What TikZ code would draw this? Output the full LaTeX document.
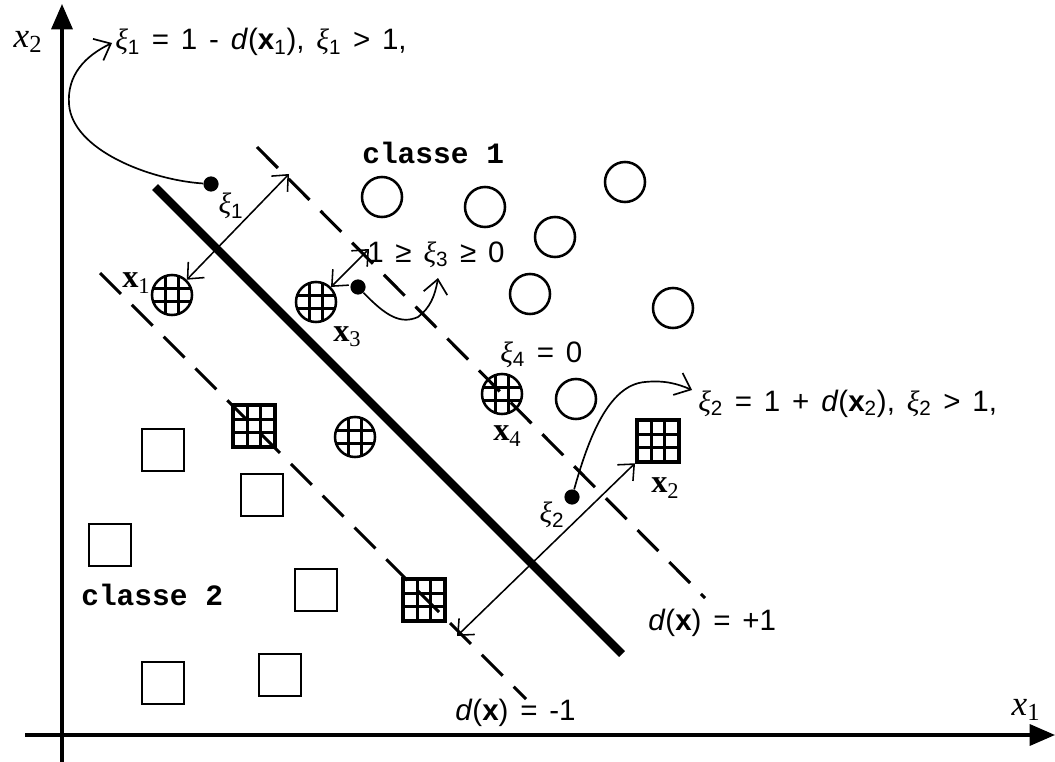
\documentclass[tikz,border=0pt]{standalone}
\usepackage{fontspec}
\setmainfont{Liberation Sans}
\newfontfamily\serif{Liberation Serif}
\newfontfamily\mono{Liberation Mono}
\usetikzlibrary{arrows.meta}
\newcommand\myxi{{\serif\itshape ξ}}
\newcommand\gap{\hspace{0.4em}}
\newcommand\ptname[1]{\textbf{x}\raisebox{-0.35ex}{\fontsize{16}{16}\selectfont #1}}
\tikzset{
  opencirc/.style={circle,draw,line width=1.8pt,minimum size=1cm,inner sep=0pt},
  opensq/.style={rectangle,draw,line width=2pt,minimum size=1.05cm,inner sep=0pt},
  gridlines/.style={path picture={
      \foreach \d in {-0.17,0.17}{
        \draw[line width=2pt] ([xshift=\d cm]path picture bounding box.north) -- ([xshift=\d cm]path picture bounding box.south);
        \draw[line width=2pt] ([yshift=\d cm]path picture bounding box.west) -- ([yshift=\d cm]path picture bounding box.east);}}},
  hatchcirc/.style={opencirc,gridlines},
  hatchsq/.style={opensq,line width=2.8pt,gridlines},
  dotnode/.style={circle,fill,minimum size=0.38cm,inner sep=0pt},
  dbl/.style={line width=1.1pt,{Straight Barb[length=9pt,width=16pt]}-{Straight Barb[length=9pt,width=16pt]}},
  curvearrow/.style={line width=1.2pt,-{Straight Barb[length=10pt,width=17pt]}},
  axis/.style={line width=2.2pt,-{Triangle[length=18pt,width=15pt]}},
  margin/.style={line width=2.2pt,dash pattern=on 21pt off 11pt},
  boundary/.style={line width=6pt},
  lab/.style={inner sep=0pt,font=\fontsize{21}{23}\selectfont},
  monolab/.style={inner sep=0pt,font=\mono\bfseries\fontsize{21}{23}\selectfont},
  ptlab/.style={inner sep=0pt,font=\serif\fontsize{23}{25}\selectfont},
  axlab/.style={inner sep=0pt,font=\serif\itshape\fontsize{25}{27}\selectfont},
}
\begin{document}
\begin{tikzpicture}[x=0.025cm,y=-0.025cm]
\useasboundingbox (0,0) rectangle (1055,762);
% axes
\coordinate (yb) at (62,762);
\coordinate (yt) at (62,4);
\coordinate (xl) at (25,735);
\coordinate (xr) at (1055,735);
\draw[axis] (yb) -- (yt);
\draw[axis] (xl) -- (xr);
\node[axlab] (ax2) at (28,42) {x\textsubscript{\upshape 2}};
\node[axlab] (ax1) at (1026,710) {x\textsubscript{\upshape 1}};
% lines
\coordinate (b1) at (155,187);
\coordinate (b2) at (622,654);
\coordinate (u1) at (257,147);
\coordinate (u2) at (705,598);
\coordinate (l1) at (100,273);
\coordinate (l2) at (526,699);
\draw[boundary] (b1) -- (b2);
\draw[margin] (u1) -- (u2);
\draw[margin] (l1) -- (l2);
% class 1 open circles
\node[opencirc] (c1) at (382,197) {};
\node[opencirc] (c2) at (485,207) {};
\node[opencirc] (c3) at (625,182) {};
\node[opencirc] (c4) at (555,237) {};
\node[opencirc] (c5) at (530,294) {};
\node[opencirc] (c6) at (673,308) {};
\node[opencirc] (c7) at (576,399) {};
% class 1 hatched circles
\node[hatchcirc] (x1) at (172,295) {};
\node[hatchcirc] (x3) at (316,302) {};
\node[hatchcirc] (x4) at (502,394) {};
\node[hatchcirc] (h5) at (355,437) {};
% class 2 open squares
\node[opensq] (s1) at (163,450) {};
\node[opensq] (s2) at (262,495) {};
\node[opensq] (s3) at (110,545) {};
\node[opensq] (s4) at (316,590) {};
\node[opensq] (s5) at (163,683) {};
\node[opensq] (s6) at (280,675) {};
% class 2 hatched squares
\node[hatchsq] (q1) at (254,426) {};
\node[hatchsq] (q2) at (424,600) {};
\node[hatchsq] (x2) at (658,441) {};
% labels of points
\node[ptlab] (lx1) at (136,283) {\ptname{1}};
\node[ptlab] (lx3) at (347,337) {\ptname{3}};
\node[ptlab] (lx4) at (507,436) {\ptname{4}};
\node[ptlab] (lx2) at (665,488) {\ptname{2}};
\node[monolab,anchor=base west] (cl1) at (362,163) {classe 1};
\node[monolab,anchor=base west] (cl2) at (81,605) {classe 2};
% slack dots
\node[dotnode] (d1) at (211,184) {};
\node[dotnode] (d3) at (358,287) {};
\node[dotnode] (d2) at (572,497) {};
\node[lab] (lxi1) at (231,206) {\myxi\textsubscript{1}};
\node[lab] (lxi2) at (552,515) {\myxi\textsubscript{2}};
% double arrows
\coordinate (m1) at (289,174);
\coordinate (m3) at (369,249);
\coordinate (m2) at (457,636);
\draw[dbl] (x1) -- (m1);
\draw[dbl] (x3) -- (m3);
\draw[dbl] (x2) -- (m2);
% curved arrows
\coordinate (e1) at (112,43);
\coordinate (e3) at (438,278);
\coordinate (e2) at (692,390);
\draw[curvearrow] (d1) .. controls (150,180) and (72,150) .. (69,104) .. controls (67,75) and (85,56) .. (e1);
\draw[curvearrow] (d3) .. controls (385,315) and (400,325) .. (418,317) .. controls (430,308) and (435,296) .. (e3);
\draw[curvearrow] (d2) .. controls (588,440) and (608,385) .. (645,382) .. controls (665,380) and (678,384) .. (e2);
% formulas
\node[lab,anchor=base west] (t1) at (115,50) {\myxi\textsubscript{1}\gap=\gap1\gap-\gap\textit{d}(\textbf{x}\textsubscript{1}),\gap\myxi\textsubscript{1}\gap>\gap1,};
\node[lab,anchor=base west] (t3) at (367,262) {1\gap≥\gap\myxi\textsubscript{3}\gap≥\gap0};
\node[lab,anchor=base west] (t4) at (500,362) {\myxi\textsubscript{4}\gap=\gap0};
\node[lab,anchor=base west] (t2) at (698,411) {\myxi\textsubscript{2}\gap=\gap1\gap+\gap\textit{d}(\textbf{x}\textsubscript{2}),\gap\myxi\textsubscript{2}\gap>\gap1,};
\node[lab,anchor=base west] (tp) at (648,630) {\textit{d}(\textbf{x})\gap=\gap+1};
\node[lab,anchor=base west] (tm) at (455,720) {\textit{d}(\textbf{x})\gap=\gap-1};
\end{tikzpicture}
\end{document}
